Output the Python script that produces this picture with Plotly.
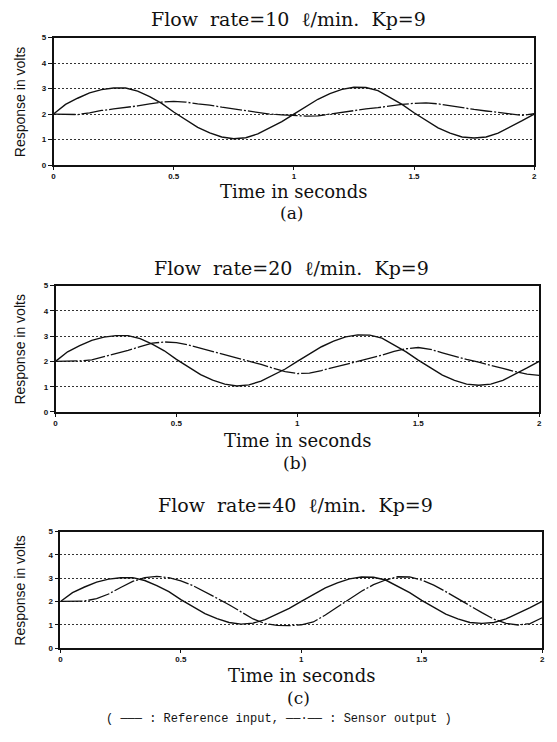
import plotly.graph_objects as go

# Sampling instants (s)
time_s = [0.00, 0.05, 0.10, 0.15, 0.20, 0.25, 0.30, 0.35, 0.40, 0.45,
          0.50, 0.55, 0.60, 0.65, 0.70, 0.75, 0.80, 0.85, 0.90, 0.95,
          1.00, 1.05, 1.10, 1.15, 1.20, 1.25, 1.30, 1.35, 1.40, 1.45,
          1.50, 1.55, 1.60, 1.65, 1.70, 1.75, 1.80, 1.85, 1.90, 1.95, 2.00]

# Reference input (V), common to all three runs
ref_input = [2.00, 2.38, 2.62, 2.83, 2.96, 3.02, 3.02, 2.90, 2.68, 2.42,
             2.08, 1.78, 1.48, 1.26, 1.10, 1.03, 1.07, 1.22, 1.45, 1.70,
             2.00, 2.30, 2.58, 2.80, 2.97, 3.05, 3.04, 2.92, 2.66, 2.38,
             2.05, 1.75, 1.46, 1.25, 1.10, 1.06, 1.10, 1.25, 1.48, 1.74, 2.00]

# Sensor output (V) at 10 l/min
sensor_10 = [2.00, 2.00, 1.98, 2.05, 2.14, 2.20, 2.25, 2.32, 2.40, 2.47,
             2.50, 2.47, 2.40, 2.35, 2.27, 2.20, 2.12, 2.05, 2.00, 1.97,
             1.95, 1.92, 1.93, 2.00, 2.08, 2.13, 2.20, 2.25, 2.32, 2.38,
             2.42, 2.44, 2.40, 2.32, 2.25, 2.18, 2.12, 2.06, 2.00, 1.95, 2.02]

# Sensor output (V) at 20 l/min
sensor_20 = [2.00, 2.00, 2.02, 2.06, 2.18, 2.31, 2.44, 2.58, 2.72, 2.77,
             2.74, 2.65, 2.52, 2.40, 2.28, 2.16, 2.02, 1.88, 1.73, 1.60,
             1.52, 1.54, 1.64, 1.76, 1.88, 2.00, 2.12, 2.25, 2.40, 2.50,
             2.55, 2.48, 2.34, 2.20, 2.08, 1.97, 1.86, 1.72, 1.60, 1.50, 1.45]

# Sensor output (V) at 40 l/min
sensor_40 = [2.00, 2.00, 2.02, 2.12, 2.32, 2.60, 2.86, 3.02, 3.08, 3.02,
             2.88, 2.68, 2.42, 2.14, 1.86, 1.55, 1.25, 1.05, 0.97, 0.96,
             1.00, 1.12, 1.42, 1.76, 2.10, 2.44, 2.72, 2.92, 3.06, 3.05,
             2.92, 2.70, 2.42, 2.12, 1.80, 1.52, 1.24, 1.06, 0.99, 1.05, 1.30]

flow_rates = [10, 20, 40]
panel_tags = ["(a)", "(b)", "(c)"]
sensor_runs = [sensor_10, sensor_20, sensor_40]

x_ticks = [0, 0.5, 1, 1.5, 2]
x_tick_text = ["0", "0.5", "1", "1.5", "2"]
y_ticks = [0, 1, 2, 3, 4, 5]

W, H = 557, 742

# Plot-area boxes in pixels: (left, right, top, bottom)
boxes = [(52, 537, 34, 163), (54, 542, 285, 413), (59, 545, 534, 652)]
# Vertical pixel positions of the text rows of each panel
title_y = [15, 267, 507]
xlabel_y = [190, 442, 680]
tag_y = [212, 465, 703]

SERIF = "DejaVu Serif, Liberation Serif, serif"
SANS = "Liberation Sans, Arial, sans-serif"

fig = go.Figure()
layout = dict(
    width=W, height=H, autosize=False,
    margin=dict(l=0, r=0, t=0, b=0),
    paper_bgcolor="white", plot_bgcolor="white",
    showlegend=False,
)

annotations = []
for i, (flow, tag, sensor) in enumerate(zip(flow_rates, panel_tags, sensor_runs)):
    n = "" if i == 0 else str(i + 1)
    xa, ya = "x" + n, "y" + n
    left, right, top, bottom = boxes[i]

    fig.add_trace(go.Scatter(
        x=time_s, y=ref_input, xaxis=xa, yaxis=ya, mode="lines",
        line=dict(color="#111", width=1.4), name="Reference input"))
    fig.add_trace(go.Scatter(
        x=time_s, y=sensor, xaxis=xa, yaxis=ya, mode="lines",
        line=dict(color="#111", width=1.3, dash="22px,2px,2px,2px"),
        name="Sensor output"))

    layout["xaxis" + n] = dict(
        domain=[left / W, right / W], anchor=ya, range=[0, 2],
        tickvals=x_ticks, ticktext=x_tick_text,
        ticks="outside", ticklen=3, tickwidth=1.2, tickcolor="#111",
        tickfont=dict(family=SANS, size=8, color="#111", weight="bold"),
        showline=True, linecolor="#111", linewidth=1.6, mirror=True,
        showgrid=False, zeroline=False, fixedrange=True)
    layout["yaxis" + n] = dict(
        domain=[1 - bottom / H, 1 - top / H], anchor=xa, range=[0, 5],
        tickvals=y_ticks,
        ticks="outside", ticklen=4, tickwidth=1.2, tickcolor="#111",
        tickfont=dict(family=SANS, size=8, color="#111", weight="bold"),
        showline=True, linecolor="#111", linewidth=1.6, mirror=True,
        showgrid=True, gridcolor="#333", gridwidth=1, griddash="2px,2px",
        zeroline=False, fixedrange=True)

    cx = (left + right) / 2 / W
    annotations.append(dict(
        text=f"Flow  rate={flow}  ℓ/min.  Kp=9", x=cx - 0.01, y=1 - title_y[i] / H,
        xref="paper", yref="paper", xanchor="center", yanchor="middle",
        showarrow=False, font=dict(family=SERIF, size=19, color="#111")))
    annotations.append(dict(
        text="Time in seconds", x=cx, y=1 - xlabel_y[i] / H,
        xref="paper", yref="paper", xanchor="center", yanchor="middle",
        showarrow=False, font=dict(family=SERIF, size=18, color="#111")))
    annotations.append(dict(
        text=tag, x=cx - 0.005, y=1 - tag_y[i] / H,
        xref="paper", yref="paper", xanchor="center", yanchor="middle",
        showarrow=False, font=dict(family=SERIF, size=17, color="#111")))
    annotations.append(dict(
        text="Response in volts", x=18 / W, y=1 - (top + bottom) / 2 / H,
        xref="paper", yref="paper", xanchor="center", yanchor="middle",
        textangle=-90, showarrow=False,
        font=dict(family=SANS, size=14, color="#111")))

annotations.append(dict(
    text="( ——— : Reference input, ——·—— : Sensor output )",
    x=280 / W, y=1 - 724 / H, xref="paper", yref="paper",
    xanchor="center", yanchor="middle", showarrow=False,
    font=dict(family="Liberation Mono, Courier New, monospace", size=12, color="#111")))

layout["annotations"] = annotations
fig.update_layout(**layout)
fig.write_html("out.html")
